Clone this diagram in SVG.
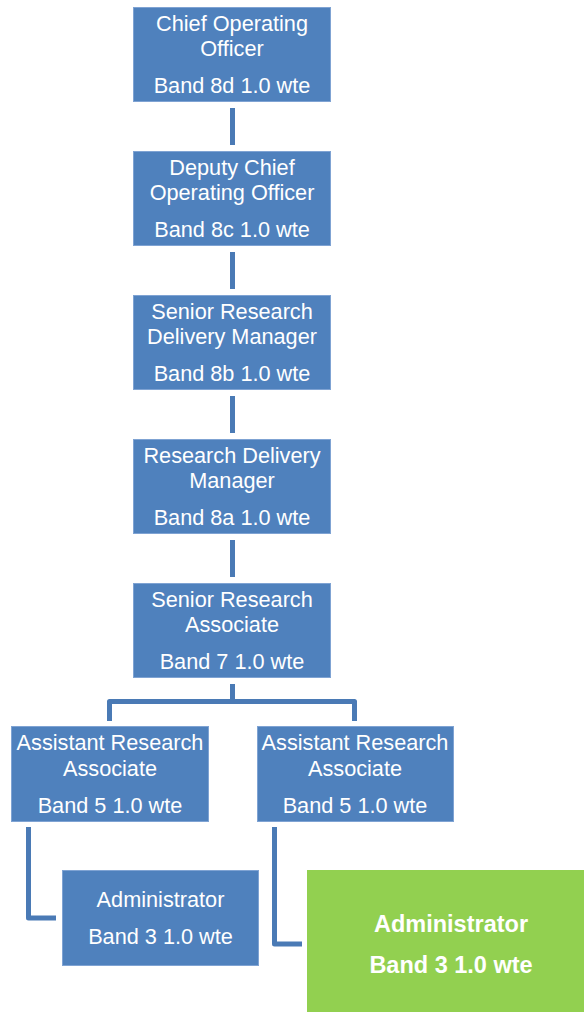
<svg xmlns="http://www.w3.org/2000/svg" width="584" height="1012" viewBox="0 0 584 1012">
  <style>
    .box { fill: #4F81BD; stroke: #7FA3D3; stroke-width: 1; }
    .green { fill: #92D050; }
    .t { font-family: "Liberation Sans", Arial, sans-serif; font-size: 21.7px; fill: #FFFFFF; text-anchor: middle; }
    .b { font-weight: bold; font-size: 23.5px; }
    .conn { fill: none; stroke: #4A7AB5; stroke-width: 5; stroke-linejoin: round; }
  </style>
  <rect width="584" height="1012" fill="#FFFFFF"/>

  <g id="connectors">
    <path class="conn" d="M232.5 108 V145"/>
    <path class="conn" d="M232.5 252 V289"/>
    <path class="conn" d="M232.5 396 V433"/>
    <path class="conn" d="M232.5 540 V577"/>
    <path class="conn" d="M232.5 684 V701.5"/>
    <path class="conn" d="M109.5 721 V701.5 H354.5 V721"/>
    <path class="conn" d="M28.5 827 V918 H56"/>
    <path class="conn" d="M274.5 827 V944 H302"/>
  </g>

  <g id="coo">
    <rect class="box" x="133.5" y="7.5" width="197" height="94"/>
    <text class="t" x="232" y="31">Chief Operating</text>
    <text class="t" x="232" y="56">Officer</text>
    <text class="t" x="232" y="93">Band 8d 1.0 wte</text>
  </g>

  <g id="deputy-coo">
    <rect class="box" x="133.5" y="151.5" width="197" height="94"/>
    <text class="t" x="232" y="175">Deputy Chief</text>
    <text class="t" x="232" y="200">Operating Officer</text>
    <text class="t" x="232" y="237">Band 8c 1.0 wte</text>
  </g>

  <g id="senior-rdm">
    <rect class="box" x="133.5" y="295.5" width="197" height="94"/>
    <text class="t" x="232" y="319">Senior Research</text>
    <text class="t" x="232" y="344">Delivery Manager</text>
    <text class="t" x="232" y="381">Band 8b 1.0 wte</text>
  </g>

  <g id="rdm">
    <rect class="box" x="133.5" y="439.5" width="197" height="94"/>
    <text class="t" x="232" y="463">Research Delivery</text>
    <text class="t" x="232" y="488">Manager</text>
    <text class="t" x="232" y="525">Band 8a 1.0 wte</text>
  </g>

  <g id="senior-ra">
    <rect class="box" x="133.5" y="583.5" width="197" height="94"/>
    <text class="t" x="232" y="607">Senior Research</text>
    <text class="t" x="232" y="632">Associate</text>
    <text class="t" x="232" y="669">Band 7 1.0 wte</text>
  </g>

  <g id="ara-left">
    <rect class="box" x="11.5" y="726.5" width="197" height="95"/>
    <text class="t" x="110" y="750">Assistant Research</text>
    <text class="t" x="110" y="776">Associate</text>
    <text class="t" x="110" y="813">Band 5 1.0 wte</text>
  </g>

  <g id="ara-right">
    <rect class="box" x="257.5" y="726.5" width="196" height="95"/>
    <text class="t" x="355" y="750">Assistant Research</text>
    <text class="t" x="355" y="776">Associate</text>
    <text class="t" x="355" y="813">Band 5 1.0 wte</text>
  </g>

  <g id="admin-left">
    <rect class="box" x="62.5" y="870.5" width="196" height="95"/>
    <text class="t" x="160.5" y="907">Administrator</text>
    <text class="t" x="160.5" y="944">Band 3 1.0 wte</text>
  </g>

  <g id="admin-right">
    <rect class="green" x="307" y="870" width="290" height="142"/>
    <text class="t b" x="451" y="932">Administrator</text>
    <text class="t b" x="451" y="973">Band 3 1.0 wte</text>
  </g>
</svg>
